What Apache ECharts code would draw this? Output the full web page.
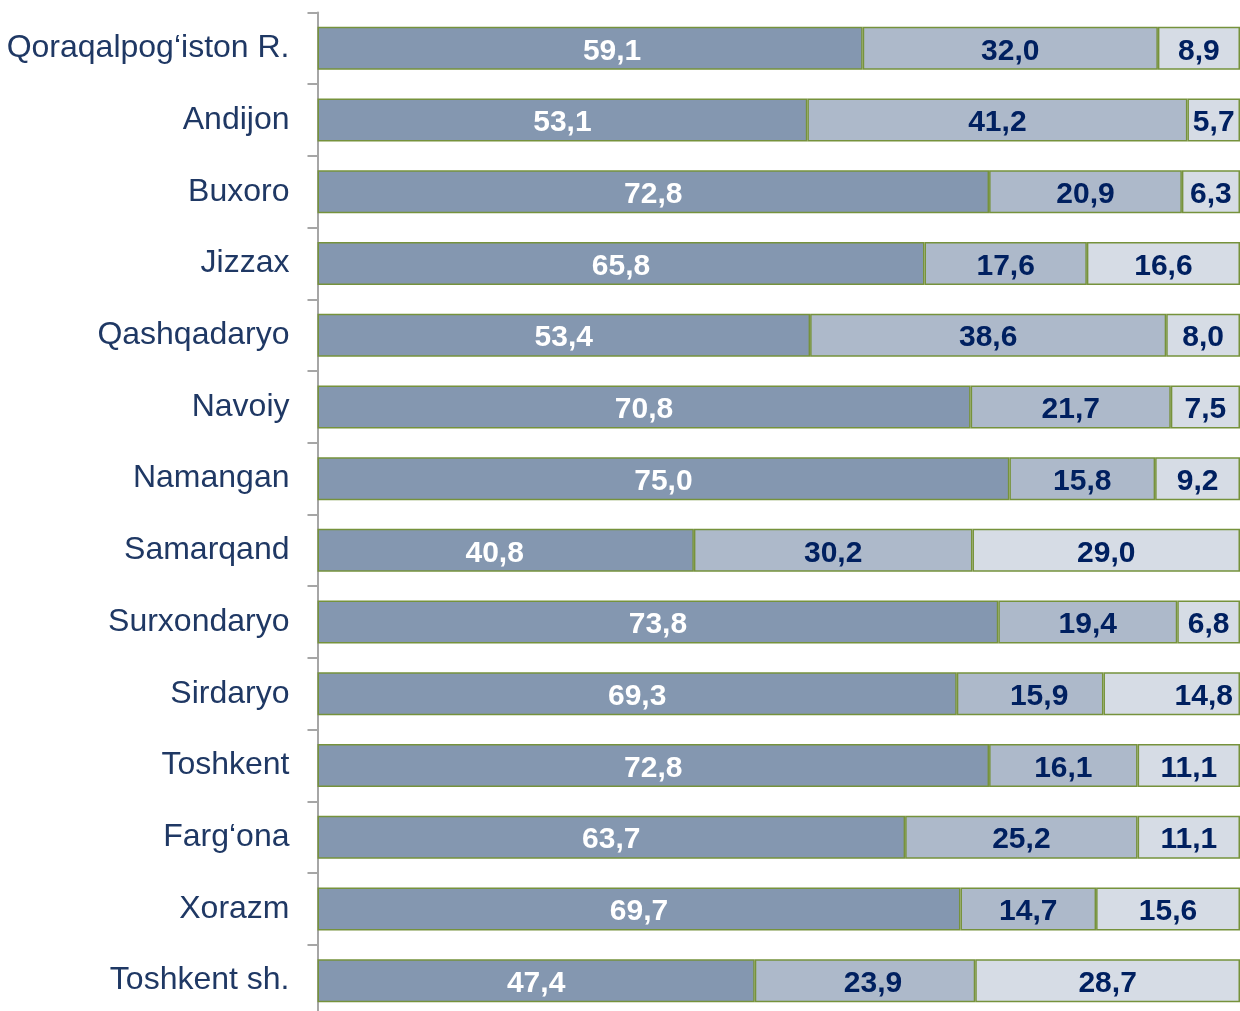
<!DOCTYPE html>
<html>
<head>
<meta charset="utf-8">
<script src="https://cdn.jsdelivr.net/npm/echarts@6/dist/echarts.min.js"></script>
<style>
html,body{margin:0;padding:0;background:#fff;}
#chart{width:1240px;height:1011px;}
</style>
</head>
<body>
<div id="chart"></div>
<script>
const categories = ["Qoraqalpog‘iston R.","Andijon","Buxoro","Jizzax","Qashqadaryo","Navoiy","Namangan","Samarqand","Surxondaryo","Sirdaryo","Toshkent","Farg‘ona","Xorazm","Toshkent sh."];
const series1 = [59.1,53.1,72.8,65.8,53.4,70.8,75.0,40.8,73.8,69.3,72.8,63.7,69.7,47.4];
const series2 = [32.0,41.2,20.9,17.6,38.6,21.7,15.8,30.2,19.4,15.9,16.1,25.2,14.7,23.9];
const series3 = [8.9,5.7,6.3,16.6,8.0,7.5,9.2,29.0,6.8,14.8,11.1,11.1,15.6,28.7];

// horizontal nudges of a few hand-placed data labels (series index, category index, px)
const labelNudges = [[0,0,22],[0,7,-11],[1,13,8],[1,9,9],[2,9,32]];

const FONT = '"Liberation Sans", Arial, sans-serif';
const fmt = p => p.value.toFixed(1).replace('.', ',');
const LABEL_DY = 3;

function mk(idx, data, color, labelColor) {
  const items = data.map((v, i) => {
    const n = labelNudges.find(a => a[0] === idx && a[1] === i);
    return n ? { value: v, label: { offset: [n[2], LABEL_DY] } } : v;
  });
  return {
    name: 's' + idx,
    type: 'bar',
    stack: 'total',
    barWidth: '60%',
    data: items,
    itemStyle: { color: color, borderColor: '#76923C', borderWidth: 1.5 },
    label: {
      show: true, position: 'inside', formatter: fmt,
      color: labelColor, fontFamily: FONT, fontWeight: 'bold', fontSize: 30,
      offset: [0, LABEL_DY]
    },
    emphasis: { disabled: true },
    animation: false
  };
}

const chart = echarts.init(document.getElementById('chart'), null, { renderer: 'canvas' });
chart.setOption({
  animation: false,
  grid: { left: 317.5, right: 0, top: 12.5, height: 1004, containLabel: false, outerBoundsMode: 'none' },
  xAxis: { type: 'value', min: 0, max: 100, show: false },
  yAxis: {
    type: 'category', data: categories, inverse: true,
    axisLine: { show: true, lineStyle: { color: '#A6A6A6', width: 2 } },
    axisTick: { show: true, length: 10, lineStyle: { color: '#A6A6A6', width: 2 } },
    axisLabel: { color: '#1F3864', fontFamily: FONT, fontSize: 32, margin: 28 },
    splitLine: { show: false }
  },
  series: [
    mk(0, series1, '#8497B0', '#FFFFFF'),
    mk(1, series2, '#ADB9CA', '#002060'),
    mk(2, series3, '#D6DCE5', '#002060')
  ]
});
</script>
</body>
</html>
